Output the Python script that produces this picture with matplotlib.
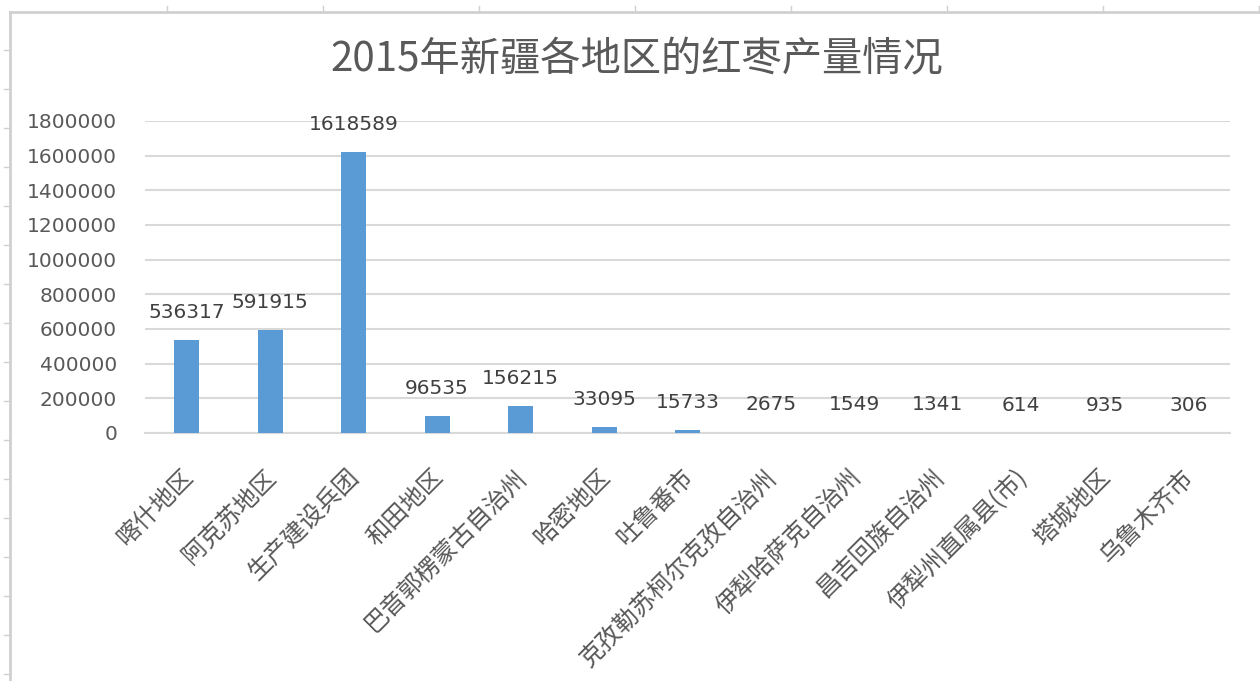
import matplotlib
matplotlib.use("Agg")
import matplotlib.pyplot as plt
from matplotlib.lines import Line2D
from matplotlib.transforms import ScaledTranslation
import numpy as np

plt.rcParams["font.family"] = ["Noto Sans CJK SC", "DejaVu Sans"]

regions = ["喀什地区", "阿克苏地区", "生产建设兵团", "和田地区", "巴音郭楞蒙古自治州",
           "哈密地区", "吐鲁番市", "克孜勒苏柯尔克孜自治州", "伊犁哈萨克自治州",
           "昌吉回族自治州", "伊犁州直属县(市)", "塔城地区", "乌鲁木齐市"]
output = [536317, 591915, 1618589, 96535, 156215, 33095, 15733, 2675, 1549, 1341, 614, 935, 306]
yticks = [0, 200000, 400000, 600000, 800000, 1000000, 1200000, 1400000, 1600000, 1800000]

BLUE, TXT, GRID = "#5b9bd5", "#595959", "#d9d9d9"
NUM = ["DejaVu Sans"]

fig = plt.figure(figsize=(12.6, 6.81), dpi=100)
ax = fig.add_axes([145/1260, 1-433/681, 1085/1260, 312/681])

x = np.arange(len(regions))
ax.bar(x, output, width=0.30, color=BLUE, zorder=3)
for xi, v in zip(x, output):
    ax.annotate(f"{v}", (xi, v), xytext=(0, 20), textcoords="offset points",
                ha="center", va="center", fontsize=14.5, color="#404040", family=NUM)

ax.set_xlim(-0.5, len(regions) - 0.5)
ax.set_ylim(0, 1800000)
ax.set_yticks(yticks)
ax.set_yticklabels([str(t) for t in yticks], family=NUM)
ax.grid(axis="y", color=GRID, lw=1.5, zorder=0)
for s in ("top", "right", "left"):
    ax.spines[s].set_visible(False)
ax.spines["bottom"].set_color(GRID)
ax.spines["bottom"].set_linewidth(1.5)
ax.tick_params(axis="y", length=0, pad=20, labelsize=14.5, labelcolor=TXT)
ax.tick_params(axis="x", length=0, pad=16, labelsize=17.5, labelcolor=TXT)
ax.set_xticks(x)
ax.set_xticklabels(regions, rotation=45, ha="right", rotation_mode="anchor")
shift = ScaledTranslation(-7/100, -9/100, fig.dpi_scale_trans)
for lab in ax.get_xticklabels():
    lab.set_transform(lab.get_transform() + shift)

fig.text(637/1260, 1-60/681, "2015年新疆各地区的红枣产量情况", ha="center", va="center",
         fontsize=29, color=TXT)

# screenshot frame
fig.add_artist(Line2D([10/1260, 1], [1-12/681, 1-12/681], color="#d0d0d0", lw=2))
fig.add_artist(Line2D([10/1260, 10/1260], [0, 1-12/681], color="#d0d0d0", lw=2))
for yy in range(50, 681, 39):
    fig.add_artist(Line2D([4/1260, 10/1260], [1-yy/681]*2, color="#d0d0d0", lw=1))
for xx in range(167, 1260, 156):
    fig.add_artist(Line2D([xx/1260]*2, [1-6/681, 1-12/681], color="#d0d0d0", lw=1))

fig.savefig("out.png", dpi=100)
